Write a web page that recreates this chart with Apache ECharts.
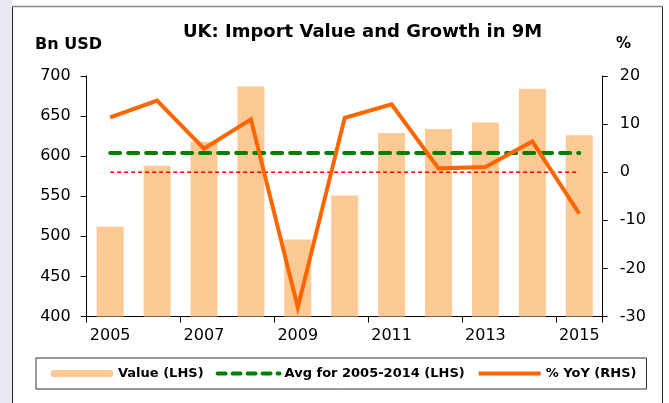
<!DOCTYPE html>
<html>
<head>
<meta charset="utf-8">
<script src="https://cdn.jsdelivr.net/npm/echarts@6/dist/echarts.min.js"></script>
<style>
  html, body { margin: 0; padding: 0; background: #fff; }
  #chart { width: 669px; height: 403px; }
</style>
</head>
<body>
<div id="chart"></div>
<script>
const years = ['2005', '2006', '2007', '2008', '2009', '2010', '2011', '2012', '2013', '2014', '2015'];
const importValue = [512, 588, 618, 687, 496, 551, 629, 634, 642, 684, 626];
const avgValue = [604, 604, 604, 604, 604, 604, 604, 604, 604, 604, 604];
const yoy = [11.4, 14.9, 4.9, 11.0, -28.1, 11.3, 14.1, 0.8, 1.1, 6.4, -8.6];
const zeroLine = [0, 0, 0, 0, 0, 0, 0, 0, 0, 0, 0];

const font = 'DejaVu Sans';

const chart = echarts.init(document.getElementById('chart'));

const option = {
  backgroundColor: '#fff',
  animation: false,
  textStyle: { fontFamily: font },
  title: [
    {
      text: 'UK: Import Value and Growth in 9M',
      left: 183, top: 23, padding: 0,
      textStyle: { fontFamily: font, fontSize: 18, fontWeight: 'bold', color: '#000' }
    },
    {
      text: 'Bn USD',
      left: 35, top: 37, padding: 0,
      textStyle: { fontFamily: font, fontSize: 16, fontWeight: 'bold', color: '#000' }
    },
    {
      text: '%',
      left: 616, top: 37, padding: 0,
      textStyle: { fontFamily: font, fontSize: 15, fontWeight: 'bold', color: '#000' }
    }
  ],
  graphic: [
    { type: 'rect', shape: { x: 0, y: 0, width: 12, height: 403 }, style: { fill: '#e9e9f3' }, silent: true },
    { type: 'rect', shape: { x: 12.5, y: 6.5, width: 650, height: 420 }, style: { fill: 'none', stroke: '#222', lineWidth: 1 }, silent: true },
    { type: 'line', shape: { x1: 12, y1: 6.5, x2: 663, y2: 6.5 }, style: { stroke: '#888', lineWidth: 1.5 }, silent: true }
  ],
  legend: {
    data: [
      { name: 'Value (LHS)' },
      { name: 'Avg for 2005-2014 (LHS)', itemStyle: { opacity: 0 }, lineStyle: { width: 4, color: '#008000', type: [8, 7], cap: 'round' } },
      { name: '% YoY (RHS)', itemStyle: { opacity: 0 }, lineStyle: { width: 4, color: '#ff6600' } }
    ],
    left: 36, top: 358,
    padding: [9, 10, 9, 15],
    itemWidth: 62, itemHeight: 7, itemGap: 12,
    borderColor: '#333', borderWidth: 1,
    textStyle: { fontFamily: font, fontSize: 13, fontWeight: 'bold', color: '#000' }
  },
  grid: { left: 86.7, right: 66.3, top: 76, bottom: 86.5 },
  xAxis: {
    type: 'category',
    data: years,
    axisLine: { onZero: false, lineStyle: { color: '#000', width: 1 } },
    axisTick: { show: true, length: 6, lineStyle: { color: '#000' } },
    axisLabel: { interval: 1, margin: 11, fontSize: 16, color: '#000', fontFamily: font }
  },
  yAxis: [
    {
      type: 'value', min: 400, max: 700, interval: 50,
      splitLine: { show: false },
      axisLine: { show: true, lineStyle: { color: '#000' } },
      axisTick: { show: true, length: 6, lineStyle: { color: '#000' } },
      axisLabel: { margin: 16, fontSize: 16, color: '#000', fontFamily: font }
    },
    {
      type: 'value', min: -30, max: 20, interval: 10,
      splitLine: { show: false },
      axisLine: { show: true, lineStyle: { color: '#000' } },
      axisTick: { show: true, length: 5, lineStyle: { color: '#000' } },
      axisLabel: { margin: 17, fontSize: 16, color: '#000', fontFamily: font }
    }
  ],
  series: [
    {
      name: 'Value (LHS)',
      type: 'bar',
      data: importValue,
      barWidth: 27,
      itemStyle: { color: '#fdca96' }
    },
    {
      name: 'zero',
      type: 'line',
      yAxisIndex: 1,
      data: zeroLine,
      symbol: 'none',
      lineStyle: { color: '#ff0000', width: 1.5, type: [4, 3] }
    },
    {
      name: 'Avg for 2005-2014 (LHS)',
      type: 'line',
      data: avgValue,
      symbol: 'none',
      itemStyle: { color: '#008000' },
      lineStyle: { color: '#008000', width: 4, type: [10, 8], cap: 'round' }
    },
    {
      name: '% YoY (RHS)',
      type: 'line',
      yAxisIndex: 1,
      data: yoy,
      symbol: 'none',
      itemStyle: { color: '#ff6600' },
      lineStyle: { color: '#ff6600', width: 4, join: 'miter' }
    }
  ]
};

chart.setOption(option);
</script>
</body>
</html>
